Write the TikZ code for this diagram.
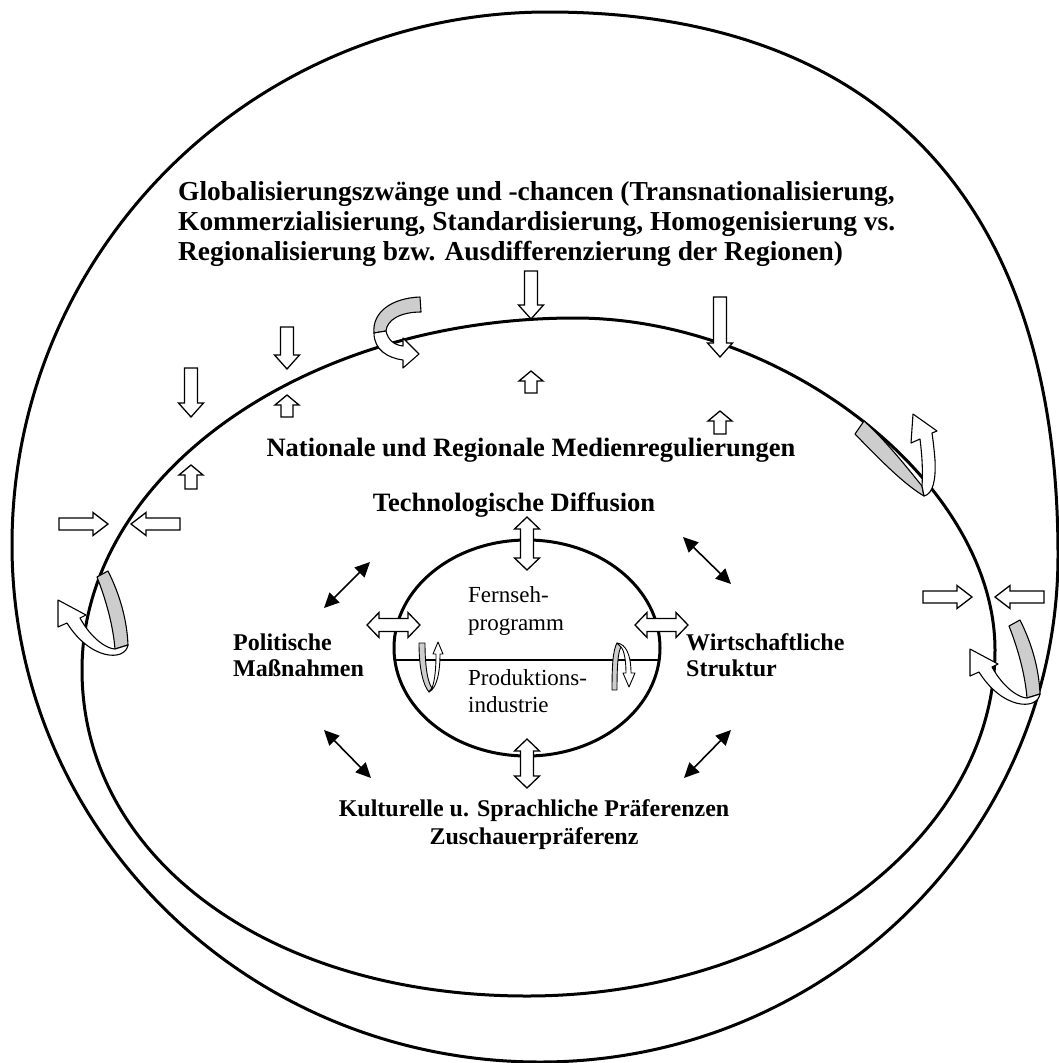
\documentclass[tikz,border=0pt]{standalone}
\usepackage{fontspec}
\setmainfont{Liberation Serif}
\usetikzlibrary{arrows.meta}
\definecolor{ribgray}{RGB}{205,205,205}
\newcommand{\myvarr}[6]{%
  \pgfmathsetmacro\hbv{#3-sign(#3-#2)*#6}%
  \draw[blk] (#1-#4,#2) -- (#1-#4,\hbv) -- (#1-#5,\hbv) -- (#1,#3) -- (#1+#5,\hbv) -- (#1+#4,\hbv) -- (#1+#4,#2) -- cycle;}
\newcommand{\myharr}[6]{%
  \pgfmathsetmacro\hbh{#2-sign(#2-#1)*#6}%
  \draw[blk] (#1,#3-#4) -- (\hbh,#3-#4) -- (\hbh,#3-#5) -- (#2,#3) -- (\hbh,#3+#5) -- (\hbh,#3+#4) -- (#1,#3+#4) -- cycle;}
\newcommand{\myvdarr}[6]{%
  \pgfmathsetmacro\hav{#2+sign(#3-#2)*#6}%
  \pgfmathsetmacro\hbv{#3-sign(#3-#2)*#6}%
  \draw[blk] (#1,#2) -- (#1+#5,\hav) -- (#1+#4,\hav) -- (#1+#4,\hbv) -- (#1+#5,\hbv) -- (#1,#3) -- (#1-#5,\hbv) -- (#1-#4,\hbv) -- (#1-#4,\hav) -- (#1-#5,\hav) -- cycle;}
\newcommand{\myhdarr}[6]{%
  \pgfmathsetmacro\hah{#1+sign(#2-#1)*#6}%
  \pgfmathsetmacro\hbh{#2-sign(#2-#1)*#6}%
  \draw[blk] (#1,#3) -- (\hah,#3-#5) -- (\hah,#3-#4) -- (\hbh,#3-#4) -- (\hbh,#3-#5) -- (#2,#3) -- (\hbh,#3+#5) -- (\hbh,#3+#4) -- (\hah,#3+#4) -- (\hah,#3+#5) -- cycle;}
\begin{document}
\begin{tikzpicture}[x=1pt,y=-1pt,
  blk/.style={draw=black, line width=1.3pt, fill=white, line join=miter},
  rib/.style={draw=black, line width=1.1pt, fill=white, line join=round},
  ribg/.style={rib, fill=ribgray},
  ring/.style={draw=black, line width=3pt},
  dblk/.style={line width=1.6pt, {Triangle[length=15pt,width=14pt]}-{Triangle[length=15pt,width=14pt]}},
  topb/.style={inner sep=0pt, font=\fontsize{27.4}{30}\selectfont\bfseries},
  bigb/.style={inner sep=0pt, font=\fontsize{26.5}{30}\selectfont\bfseries},
  midb/.style={inner sep=0pt, font=\fontsize{24}{28}\selectfont\bfseries},
  reg/.style={inner sep=0pt, font=\fontsize{23}{28}\selectfont}
]
\useasboundingbox (0,0) rectangle (1059,1063);
\fill[white] (0,0) rectangle (1059,1063);

% outer ring
\draw[ring] (12,545) .. controls (12,251) and (252,12) .. (548,12)
  .. controls (879,12) and (1058,202) .. (1058,555)
  .. controls (1058,835) and (826,1062) .. (540,1062)
  .. controls (248,1062) and (12,831) .. (12,545) -- cycle;
% national ring
\draw[ring] (82,670) .. controls (82,476) and (303,318) .. (575,318)
  .. controls (785,318) and (995,484) .. (995,650)
  .. controls (995,839) and (785,996) .. (527,996)
  .. controls (268,996) and (82,857) .. (82,670) -- cycle;

% ribbon arrow top
\draw[ribg] (374,333) .. controls (372,312) and (392,298) .. (420,297) -- (421,312) .. controls (400,312) and (387,320) .. (386,331) -- cycle;
\draw[rib] (374,333) .. controls (374,350) and (388,358) .. (403,360) -- (403,368) -- (419,354) -- (403,338) -- (403,346) .. controls (394,345) and (388,340) .. (386,331) -- cycle;
% ribbon arrow right upper
\draw[ribg] (864,421) .. controls (885,440) and (905,465) .. (922,486) -- (924,496) .. controls (905,485) and (880,460) .. (855,434) -- cycle;
\draw[rib] (922,486) -- (924,496) .. controls (933,494) and (936,480) .. (935,460) .. controls (934,448) and (933,440) .. (932,433) -- (937,431) -- (913,414) -- (911,443) -- (920,439) .. controls (922,455) and (923,470) .. (922,486) -- cycle;
% ribbon arrows left and right lower
\foreach \sx/\sy in {58/600, 970/649}{
\begin{scope}[shift={(\sx,\sy)}]
\draw[ribg] (39,-23) -- (50,-29) .. controls (62,-5) and (69,20) .. (70,45) -- (57,49) .. controls (55,25) and (48,0) .. (39,-23) -- cycle;
\draw[rib] (57,49) -- (70,45) .. controls (67,62) and (32,60) .. (9,23) -- (0,27) -- (0,0) -- (28,15) -- (22,18) .. controls (34,40) and (50,49) .. (57,49) -- cycle;
\end{scope}}

% long down arrows
\myvarr{531}{271}{319}{6.5}{12.5}{14}
\myvarr{720}{297}{357}{6.5}{12.5}{14}
\myvarr{287}{327}{369}{6.5}{12.5}{14}
\myvarr{191}{368}{417}{6.5}{12.5}{14}
% small up arrows
\myvarr{531}{393}{371}{6}{12}{10}
\myvarr{720}{434}{411}{6}{12}{10}
\myvarr{287}{417}{395}{6}{12}{10}
\myvarr{191}{489}{465}{6}{12}{10}
% horizontal pairs
\myharr{59}{108}{524}{6}{11.5}{15}
\myharr{180}{131}{524}{6}{11.5}{15}
\myharr{923}{972}{597}{6}{11.5}{15}
\myharr{1044}{995}{597}{6}{11.5}{15}

% inner ellipse
\draw[ring] (527,648) ellipse [x radius=133, y radius=108];
\begin{scope}
\clip (527,648) ellipse [x radius=133, y radius=108];
\draw[line width=2pt] (380,660) -- (680,660);
\end{scope}
% double block arrows
\myvdarr{527}{517}{570}{6.5}{12.5}{12}
\myvdarr{527}{739}{788}{6.5}{12.5}{12}
\myhdarr{367}{420}{625}{6.5}{12.5}{12}
\myhdarr{635}{688}{625}{6.5}{12.5}{12}

% small U arrows
\draw[ribg, line width=0.9pt] (419,643) -- (425,643) .. controls (425,668) and (428,683) .. (432,688) -- (429,692) .. controls (423,685) and (419,668) .. (419,643) -- cycle;
\draw[rib, line width=0.9pt] (429,692) -- (432,688) .. controls (435,680) and (436,668) .. (436,654) -- (433,654) -- (438,642) -- (443,654) -- (440,654) .. controls (440,672) and (437,688) .. (429,692) -- cycle;
\draw[ribg, line width=0.9pt] (612,690) -- (617,690) .. controls (617,665) and (618,652) .. (621,647) -- (617,643) .. controls (613,650) and (612,665) .. (612,690) -- cycle;
\draw[rib, line width=0.9pt] (617,643) -- (621,647) .. controls (624,650) and (626,660) .. (626,673) -- (623,673) -- (629,687) -- (635,673) -- (631,673) .. controls (631,655) and (626,644) .. (617,643) -- cycle;

% black double arrows
\coordinate (p1) at (324,608); \coordinate (p2) at (370,562);
\coordinate (w1) at (683,537); \coordinate (w2) at (731,584);
\coordinate (k1) at (324,730); \coordinate (k2) at (371,778);
\coordinate (s1) at (684,778); \coordinate (s2) at (731,730);
\draw[dblk] (p1) -- (p2);
\draw[dblk] (w1) -- (w2);
\draw[dblk] (k1) -- (k2);
\draw[dblk] (s1) -- (s2);

% texts
\node[topb, anchor=base west] (g1) at (178,200) {Globalisierungszwänge und -chancen (Transnationalisierung,};
\node[topb, anchor=base west] (g2) at (178,230) {Kommerzialisierung, Standardisierung, Homogenisierung vs.};
\node[topb, anchor=base west] (g3) at (178,260) {Regionalisierung bzw. Ausdifferenzierung der Regionen)};
\node[bigb, anchor=base] (nat) at (531,456) {Nationale und Regionale Medienregulierungen};
\node[bigb, anchor=base] (tech) at (514,511) {Technologische Diffusion};
\node[midb, anchor=base west] (pol1) at (233,650) {Politische};
\node[midb, anchor=base west] (pol2) at (233,676) {Maßnahmen};
\node[midb, anchor=base west] (wir1) at (686,650) {Wirtschaftliche};
\node[midb, anchor=base west] (wir2) at (686,676) {Struktur};
\node[midb, anchor=base] (kul1) at (534,816) {Kulturelle u. Sprachliche Präferenzen};
\node[midb, anchor=base] (kul2) at (534,844) {Zuschauerpräferenz};
\node[reg, anchor=base west] (f1) at (468,602) {Fernseh-};
\node[reg, anchor=base west] (f2) at (468,630) {programm};
\node[reg, anchor=base west] (f3) at (468,685) {Produktions-};
\node[reg, anchor=base west] (f4) at (468,712) {industrie};
\end{tikzpicture}
\end{document}
